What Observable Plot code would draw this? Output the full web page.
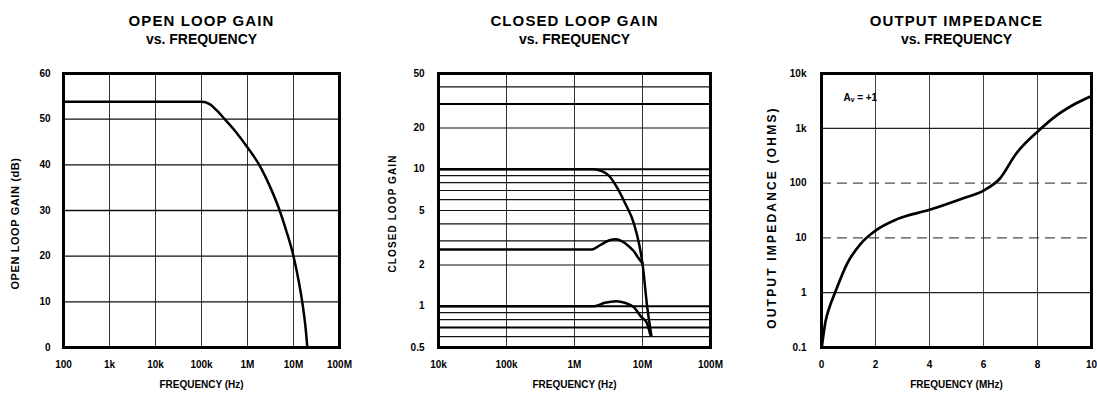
<!DOCTYPE html>
<html><head><meta charset="utf-8">
<script src="https://cdn.jsdelivr.net/npm/d3@7"></script>
<script src="https://cdn.jsdelivr.net/npm/@observablehq/plot@0.6"></script>
<style>
html,body{margin:0;padding:0;background:#fff;}
#wrap{position:relative;width:1097px;height:401px;overflow:hidden;background:#fff;}
#wrap svg{position:absolute;top:0;overflow:visible;max-width:none !important;}
</style></head><body><div id="wrap"></div>
<script>
// ---------- Panel 1: open loop gain ----------
const olTitle = ["OPEN LOOP GAIN", "vs. FREQUENCY"];
const olXTicks = [1e2, 1e3, 1e4, 1e5, 1e6, 1e7, 1e8];
const olXLabels = ["100", "1k", "10k", "100k", "1M", "10M", "100M"];
const olYTicks = [0, 10, 20, 30, 40, 50, 60];
const olYLabels = ["0", "10", "20", "30", "40", "50", "60"];
const olXGrid = [1e3, 1e4, 1e5, 1e6, 1e7];
const olYGrid = [10, 20, 30, 40, 50];
const olFreq = [1e2, 1e5, 1.5e5, 2.2e5, 3.2e5, 5e5, 1e6, 1.8e6, 3e6, 5e6, 7e6, 1e7, 1.3e7, 1.6e7, 1.8e7, 2e7];
const olGain = [53.8, 53.8, 53.3, 51.8, 50, 47.8, 43.8, 40, 35.5, 30, 25.5, 20, 14.5, 9, 5, 0];

// ---------- Panel 2: closed loop gain ----------
const clTitle = ["CLOSED LOOP GAIN", "vs. FREQUENCY"];
const clXTicks = [1e4, 1e5, 1e6, 1e7, 1e8];
const clXLabels = ["10k", "100k", "1M", "10M", "100M"];
const clYTicks = [0.5, 1, 2, 5, 10, 20, 50];
const clYLabels = ["0.5", "1", "2", "5", "10", "20", "50"];
const clXGrid = [1e5, 1e6, 1e7];
const clYGridFine = [0.6, 0.8, 0.9, 2, 3, 4, 5, 6, 7, 8, 9, 20, 40];
const clYGridBold = [0.7, 1, 10, 30];
const cl10Freq = [1e4, 1.9e6, 2.5e6, 3.2e6, 4.4e6, 5.5e6, 7.5e6, 8.9e6, 1e7, 1.17e7, 1.35e7];
const cl10Gain = [10, 10, 9.7, 9.0, 7.1, 5.7, 4.0, 2.86, 2.05, 1.0, 0.61];
const cl3Freq = [1e4, 1.8e6, 2.4e6, 3.2e6, 4.1e6, 5e6, 6.1e6, 7.3e6, 8.5e6, 1e7];
const cl3Gain = [2.6, 2.6, 2.8, 3.02, 3.08, 2.98, 2.78, 2.55, 2.29, 2.05];
const cl1Freq = [1e4, 1.95e6, 2.8e6, 4.1e6, 5.5e6, 7.5e6, 9.5e6, 1.15e7, 1.3e7];
const cl1Gain = [1.0, 1.0, 1.06, 1.09, 1.06, 0.98, 0.84, 0.76, 0.62];

// ---------- Panel 3: output impedance ----------
const ziTitle = ["OUTPUT IMPEDANCE", "vs. FREQUENCY"];
const ziXTicks = [0, 2, 4, 6, 8, 10];
const ziXLabels = ["0", "2", "4", "6", "8", "10"];
const ziYTicks = [0.1, 1, 10, 100, 1000, 10000];
const ziYLabels = ["0.1", "1", "10", "100", "1k", "10k"];
const ziXGrid = [2, 4, 6, 8];
const ziYGridSolid = [1, 1000];
const ziYGridDashed = [10, 100];
const ziFreq = [0.02, 0.15, 0.3, 0.5, 0.95, 1.45, 2.0, 2.8, 4.0, 5.2, 6.0, 6.6, 7.2, 8.05, 8.7, 9.4, 10];
const ziOhms = [0.11, 0.3, 0.55, 1.0, 3.4, 7.8, 13.6, 22, 32.6, 52, 73, 120, 340, 910, 1700, 2800, 3900];
const ziNote = "Aᵥ = +1";

// ---------- helpers ----------
const FONT = "'Liberation Sans',Arial,sans-serif";
const TFONT = "'Liberation Sans',Arial,sans-serif";
const zip = (xs, ys, s) => xs.map((x, i) => ({x, y: ys[i], s}));

function titleMarks(t) {
  return [
    Plot.text([t[0]], {text: d => d, frameAnchor: "top", dy: -58, fontSize: 15, fontWeight: "bold", fontFamily: TFONT}),
    Plot.text([t[1]], {text: d => d, frameAnchor: "top", dy: -39, fontSize: 14, fontWeight: "bold", fontFamily: TFONT})
  ];
}
function tickMarks(xt, xl, yt, yl, ypad) {
  return [
    Plot.text(xt, {x: d => d, text: (d, i) => xl[i], frameAnchor: "bottom", dy: 20, fontSize: 10}),
    Plot.text(yt, {y: d => d, text: (d, i) => yl[i], frameAnchor: "left", dx: -ypad, textAnchor: "end", fontSize: 10})
  ];
}
function axisLabels(xlab, ylab, ydx, ydy, yfs) {
  return [
    Plot.text([xlab], {text: d => d, frameAnchor: "bottom", dy: 40, fontSize: 10}),
    Plot.text([ylab], {text: d => d, frameAnchor: "left", textAnchor: "middle", dx: ydx, dy: ydy, rotate: -90, fontSize: yfs})
  ];
}
const spacing = {
  "OPEN LOOP GAIN": "1.1px", "CLOSED LOOP GAIN": "1.1px", "OUTPUT IMPEDANCE": "1.1px",
  "OPEN LOOP GAIN (dB)": "0.6px", "OUTPUT IMPEDANCE (OHMS)": "2.2px"
};
function place(svg, left) {
  svg.style.left = left + "px";
  svg.querySelectorAll("text").forEach(t => {
    const s = spacing[t.textContent];
    if (s) t.style.letterSpacing = s;
  });
  document.getElementById("wrap").appendChild(svg);
}
const baseStyle = {fontFamily: FONT, fontSize: "10px", fontWeight: "bold", color: "black", background: "white", overflow: "visible"};

// ---------- Panel 1 ----------
place(Plot.plot({
  width: 366, height: 401,
  marginLeft: 63, marginRight: 27, marginTop: 73, marginBottom: 54,
  style: baseStyle,
  x: {type: "log", domain: [1e2, 1e8], axis: null},
  y: {type: "linear", domain: [0, 60], axis: null},
  marks: [
    Plot.ruleX(olXGrid, {stroke: "#333", strokeWidth: 1}),
    Plot.ruleY(olYGrid, {stroke: "#111", strokeWidth: 1.4}),
    Plot.line(zip(olFreq, olGain), {x: "x", y: "y", stroke: "black", strokeWidth: 2.5, curve: "monotone-x"}),
    Plot.frame({stroke: "black", strokeWidth: 3}),
    ...titleMarks(olTitle),
    ...tickMarks(olXTicks, olXLabels, olYTicks, olYLabels, 13),
    ...axisLabels("FREQUENCY (Hz)", "OPEN LOOP GAIN (dB)", -48, 13, 11)
  ]
}), 0);

// ---------- Panel 2 ----------
const clData = [...zip(cl10Freq, cl10Gain, "10"), ...zip(cl3Freq, cl3Gain, "3"), ...zip(cl1Freq, cl1Gain, "1")];
place(Plot.plot({
  width: 366, height: 401,
  marginLeft: 72, marginRight: 22, marginTop: 73, marginBottom: 54,
  style: baseStyle,
  x: {type: "log", domain: [1e4, 1e8], axis: null},
  y: {type: "log", domain: [0.5, 50], axis: null},
  marks: [
    Plot.ruleX(clXGrid, {stroke: "#333", strokeWidth: 1}),
    Plot.ruleY(clYGridFine, {stroke: "#111", strokeWidth: 1.2}),
    Plot.ruleY(clYGridBold, {stroke: "#000", strokeWidth: 2}),
    Plot.line(clData, {x: "x", y: "y", z: "s", stroke: "black", strokeWidth: 2.5, curve: "monotone-x"}),
    Plot.frame({stroke: "black", strokeWidth: 3}),
    ...titleMarks(clTitle),
    ...tickMarks(clXTicks, clXLabels, clYTicks, clYLabels, 14),
    ...axisLabels("FREQUENCY (Hz)", "CLOSED LOOP GAIN", -46, 3, 10)
  ]
}), 366);

// ---------- Panel 3 ----------
place(Plot.plot({
  width: 365, height: 401,
  marginLeft: 89, marginRight: 6, marginTop: 73, marginBottom: 54,
  style: baseStyle,
  x: {type: "linear", domain: [0, 10], axis: null},
  y: {type: "log", domain: [0.1, 10000], axis: null},
  marks: [
    Plot.ruleX(ziXGrid, {stroke: "#444", strokeWidth: 1}),
    Plot.ruleY(ziYGridSolid, {stroke: "#222", strokeWidth: 1.2}),
    Plot.ruleY(ziYGridDashed, {stroke: "#222", strokeWidth: 1, strokeDasharray: "10,6"}),
    Plot.line(zip(ziFreq, ziOhms), {x: "x", y: "y", stroke: "black", strokeWidth: 2.7, curve: "monotone-x"}),
    Plot.frame({stroke: "black", strokeWidth: 3}),
    Plot.text([ziNote], {text: d => d, frameAnchor: "top-left", dx: 22, dy: 20, textAnchor: "start", fontSize: 10}),
    ...titleMarks(ziTitle),
    ...tickMarks(ziXTicks, ziXLabels, ziYTicks, ziYLabels, 15),
    ...axisLabels("FREQUENCY (MHz)", "OUTPUT IMPEDANCE (OHMS)", -49, 7, 12)
  ]
}), 732);
</script></body></html>
